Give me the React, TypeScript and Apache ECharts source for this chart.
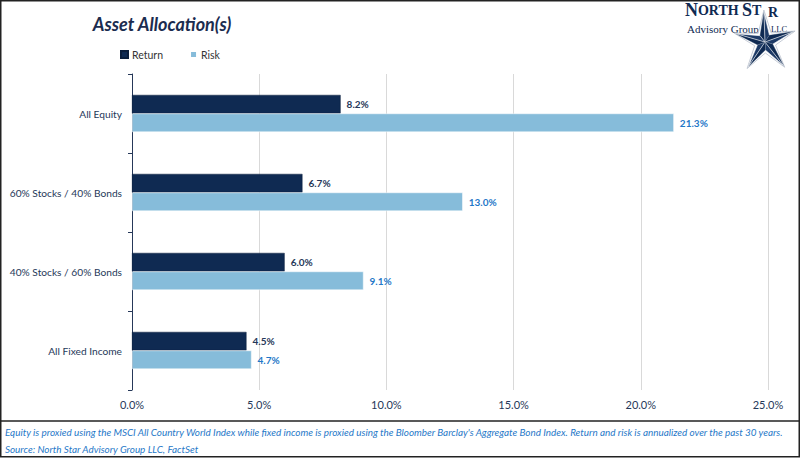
import React, { useEffect, useRef } from "react";
import * as echarts from "echarts";

const categories = ["All Equity", "60% Stocks / 40% Bonds", "40% Stocks / 60% Bonds", "All Fixed Income"];
const returnValues = [8.2, 6.7, 6.0, 4.5];
const riskValues = [21.3, 13.0, 9.1, 4.7];
const seriesNames = ["Return", "Risk"];
const titleText = "Asset Allocation(s)";
const footnote1 = "Equity is proxied using the MSCI All Country World Index while fixed income is proxied using the Bloomber Barclay's Aggregate Bond Index. Return and risk is annualized over the past 30 years.";
const footnote2 = "Source: North Star Advisory Group LLC, FactSet";

const NAVY = "#0F2A52";
const LIGHT = "#86BCDA";
const TEXT = "#263859";
const BLUE = "#1F78C8";
const FONT = "Lato";

function starFacets(cx: number, cy: number, R: number, r: number, rot: number) {
  const out: any[] = [];
  const outline: number[][] = [];
  for (let i = 0; i < 5; i++) {
    const a = rot + (i * 2 * Math.PI) / 5;
    const b = a + Math.PI / 5;
    outline.push([cx + (R + 2) * Math.cos(a), cy + (R + 2) * Math.sin(a)]);
    outline.push([cx + (r + 3) * Math.cos(b), cy + (r + 3) * Math.sin(b)]);
  }
  out.push({
    type: "polygon",
    shape: { points: outline },
    style: { fill: "#ffffff", stroke: "#b7bfcc", lineWidth: 0.8 },
    z: 19,
  });
  for (let i = 0; i < 5; i++) {
    const a = rot + (i * 2 * Math.PI) / 5;
    const aL = a - Math.PI / 5;
    const aR = a + Math.PI / 5;
    const tip = [cx + R * Math.cos(a), cy + R * Math.sin(a)];
    const inL = [cx + r * Math.cos(aL), cy + r * Math.sin(aL)];
    const inR = [cx + r * Math.cos(aR), cy + r * Math.sin(aR)];
    out.push({
      type: "polygon",
      shape: { points: [[cx, cy], tip, inL] },
      style: { fill: NAVY, stroke: NAVY, lineWidth: 0.4 },
      z: 20,
    });
    out.push({
      type: "polygon",
      shape: { points: [[cx, cy], tip, inR] },
      style: { fill: "#1d3a66", stroke: "#ffffff", lineWidth: 0.6 },
      z: 20,
    });
  }
  return out;
}

export default function App() {
  const ref = useRef<HTMLDivElement>(null);
  useEffect(() => {
    if (!ref.current) return;
    const chart = echarts.init(ref.current, null, { renderer: "svg" });
    const labelBase = { show: true, position: "right", distance: 6, fontFamily: FONT, fontSize: 10, fontWeight: "bold", formatter: (p: any) => p.value.toFixed(1) + "%" };
    chart.setOption({
      animation: false,
      backgroundColor: "#ffffff",
      textStyle: { fontFamily: FONT },
      grid: { left: 132, right: 32, top: 74, bottom: 68, containLabel: false },
      legend: {
        data: seriesNames,
        left: 115,
        top: 44,
        icon: "rect",
        itemWidth: 7,
        itemHeight: 7,
        itemGap: 26,
        textStyle: { fontFamily: FONT, fontSize: 10.5, color: "#333333", padding: [0, 0, 0, -1] },
      },
      xAxis: {
        type: "value",
        min: 0,
        max: 25,
        interval: 5,
        axisLine: { show: false },
        axisTick: { show: false },
        splitLine: { show: true, lineStyle: { color: "#D9D9D9", width: 1 } },
        axisLabel: { formatter: (v: number) => v.toFixed(1) + "%", fontFamily: FONT, fontSize: 11, color: TEXT, margin: 9 },
      },
      yAxis: {
        type: "category",
        data: categories,
        inverse: true,
        axisLine: { show: true, lineStyle: { color: TEXT, width: 1 } },
        axisTick: { show: true, length: 4, lineStyle: { color: TEXT } },
        axisLabel: { fontFamily: FONT, fontSize: 10.2, color: TEXT, margin: 10 },
      },
      series: [
        {
          name: seriesNames[0],
          type: "bar",
          data: returnValues,
          barGap: "0%",
          barCategoryGap: "53%",
          itemStyle: { color: NAVY, borderColor: "#0A1E3C", borderWidth: 0.5 },
          label: { ...labelBase, color: TEXT },
        },
        {
          name: seriesNames[1],
          type: "bar",
          data: riskValues,
          barGap: "0%",
          barCategoryGap: "53%",
          itemStyle: { color: LIGHT, borderColor: "#ffffff", borderWidth: 0.5 },
          label: { ...labelBase, color: BLUE },
        },
      ],
      graphic: [
        {
          type: "rect",
          shape: { x: 0.75, y: 0.75, width: 798.5, height: 456 },
          style: { fill: "none", stroke: "#222222", lineWidth: 1.5 },
          z: 30,
        },
        {
          type: "line",
          shape: { x1: 0, y1: 421, x2: 800, y2: 421 },
          style: { stroke: "#222222", lineWidth: 1.5 },
          z: 30,
        },
        {
          type: "text",
          x: 162,
          y: 24,
          style: { text: titleText, fontFamily: FONT, fontSize: 18, fontWeight: "bold", fontStyle: "italic", fill: "#1B2C4F", align: "center", verticalAlign: "middle" },
        },
        {
          type: "text",
          x: 5,
          y: 432,
          style: { text: footnote1, fontFamily: FONT, fontSize: 9.9, fontStyle: "italic", fill: BLUE, verticalAlign: "middle" },
        },
        {
          type: "text",
          x: 5,
          y: 449,
          style: { text: footnote2, fontFamily: FONT, fontSize: 9.9, fontStyle: "italic", fill: BLUE, verticalAlign: "middle" },
        },
        {
          type: "text",
          x: 685,
          y: 19,
          style: {
            text: "{a|N}{b|ORTH} {a|S}{b|T}",
            fill: NAVY,
            verticalAlign: "bottom",
            rich: {
              a: { fontFamily: "Liberation Serif", fontSize: 18, fontWeight: "bold", fill: NAVY },
              b: { fontFamily: "Liberation Serif", fontSize: 14, fontWeight: "bold", fill: NAVY },
            },
          },
          z: 10,
        },
        {
          type: "text",
          x: 768,
          y: 19,
          style: { text: "R", fontFamily: "Liberation Serif", fontSize: 14, fontWeight: "bold", fill: NAVY, verticalAlign: "bottom" },
          z: 10,
        },
        {
          type: "text",
          x: 687,
          y: 29,
          style: { text: "Advisory Group", fontFamily: "Liberation Serif", fontSize: 11, fill: NAVY, verticalAlign: "middle" },
          z: 10,
        },
        {
          type: "text",
          x: 771,
          y: 29,
          style: { text: "LLC", fontFamily: "Liberation Serif", fontSize: 8.5, fill: NAVY, verticalAlign: "middle" },
          z: 10,
        },
        ...starFacets(765, 42, 30, 8, (-92 * Math.PI) / 180),
      ],
    });
    return () => chart.dispose();
  }, []);
  return <div ref={ref} style={{ position: "fixed", left: 0, top: 0, width: 800, height: 458 }} />;
}
